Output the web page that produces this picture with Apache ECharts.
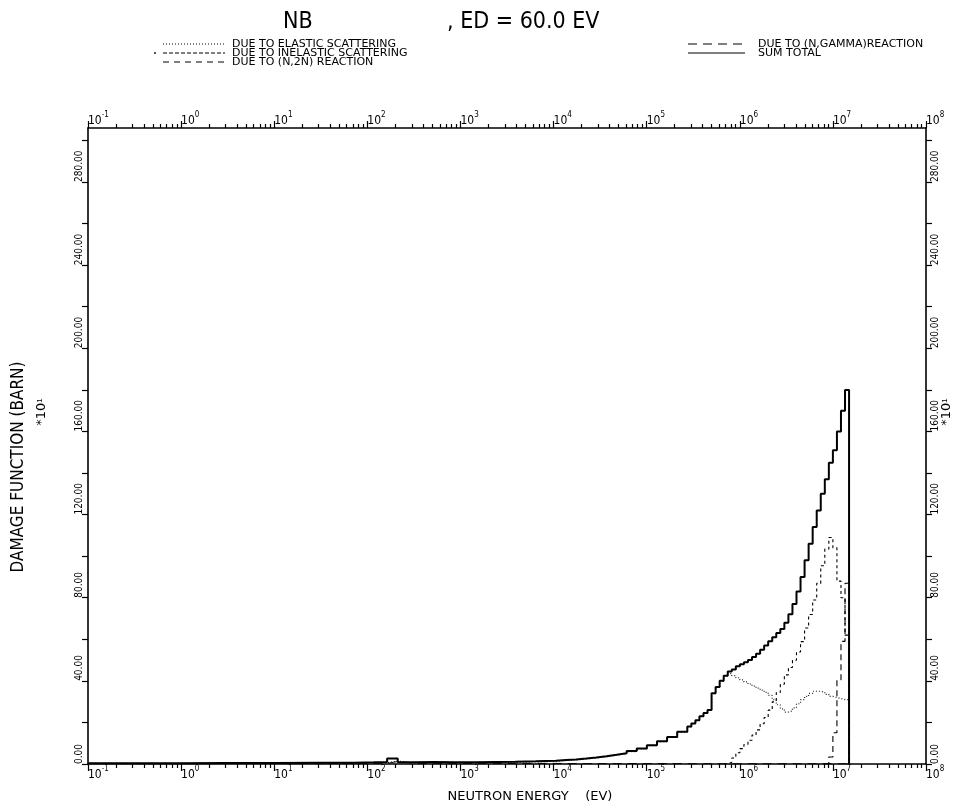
<!DOCTYPE html>
<html>
<head>
<meta charset="utf-8">
<script src="https://cdn.jsdelivr.net/npm/echarts@6/dist/echarts.min.js"></script>
<style>
  html, body { margin: 0; padding: 0; background: #fff; }
  #chart { width: 974px; height: 810px; }
</style>
</head>
<body>
<div id="chart"></div>
<script>
// Neutron energy group boundaries (eV), ascending. Value i belongs to [edges[i], edges[i+1]].
const edges = [
  0.1, 0.414, 1.0, 3.0, 10, 30, 71.4, 117.7, 163, 212, 320, 527, 870, 1434, 2364, 3898, 6426,
  10595, 13604, 17467, 22429, 28800, 36980, 47484, 60970, 78287, 100520, 129070, 165730, 212800,
  273240, 301970, 333730, 368830, 407620, 450490, 497870, 550230, 608100, 672060, 742740, 820850,
  907180, 1002600, 1108000, 1224600, 1353400, 1495700, 1653000, 1826800, 2019000, 2231300, 2466000,
  2725300, 3011900, 3328700, 3678800, 4065700, 4493300, 4965900, 5488100, 6065300, 6703200, 7408200,
  8187300, 9048400, 10000000, 11052000, 12214000, 13499000, 14918000
];

// Damage function per group, in units of 10 barn
const sumTotal = [
  0.4, 0.4, 0.5, 0.5, 0.6, 0.6, 0.8, 1.0, 2.6, 0.8, 1.0, 0.8, 0.9, 1.0, 1.1, 1.3, 1.6,
  1.9, 2.2, 2.6, 3.1, 3.7, 4.4, 5.2, 6.2, 7.5, 9.0, 11.0, 13.0, 15.5,
  18.0, 19.5, 21.0, 23.0, 24.5, 26.0, 34.0, 37.0, 40.0, 42.5, 44.5, 45.5,
  47.0, 48.0, 49.0, 50.0, 51.5, 53.0, 55.0, 57.0, 59.0, 61.0, 63.0,
  65.0, 68.0, 72.0, 77.0, 83.0, 90.0, 98.0, 106.0, 114.0, 122.0, 130.0,
  137.0, 145.0, 151.0, 160.0, 170.0, 180.0
];
const elastic = [
  0.1, 0.1, 0.2, 0.2, 0.3, 0.3, 0.5, 0.7, 1.4, 0.5, 0.7, 0.5, 0.6, 0.7, 0.8, 1.0, 1.3,
  1.7, 2.0, 2.4, 2.9, 3.5, 4.2, 5.0, 6.0, 7.3, 8.8, 10.8, 12.8, 15.3,
  17.9, 19.4, 20.9, 22.9, 24.4, 25.9, 33.9, 36.9, 39.9, 42.4, 43.5, 42.5,
  41.5, 40.5, 39.5, 38.5, 37.5, 36.5, 35.5, 34.5, 33.0, 31.0, 28.5,
  26.5, 25.0, 25.5, 27.0, 29.0, 31.0, 32.5, 34.0, 35.0, 35.0, 34.5,
  33.5, 32.5, 32.0, 31.5, 31.0, 31.0
];
const inelastic = [
  null, null, null, null, null, null, null, null, null, null, null, null, null, null, null, null, null,
  null, null, null, null, null, null, null, null, null, null, null, null, null,
  null, null, null, null, null, null, null, null, null, 0.0, 0.9, 2.9,
  5.4, 7.4, 9.4, 11.4, 13.9, 16.4, 19.4, 22.4, 25.9, 29.9, 34.4,
  38.4, 42.9, 46.4, 49.9, 53.9, 58.9, 65.4, 71.9, 78.9, 86.9, 95.4,
  103.4, 109.0, 104.0, 88.0, 80.0, 62.0
];
const n2n = [
  null, null, null, null, null, null, null, null, null, null, null, null, null, null, null, null, null,
  null, null, null, null, null, null, null, null, null, null, null, null, null,
  null, null, null, null, null, null, null, null, null, null, null, null,
  null, null, null, null, null, null, null, null, null, null, null,
  null, null, null, null, null, null, null, null, null, null, null,
  0.0, 3.4, 15.0, 40.4, 59.0, 87.0
];
const nGamma = [
  0.3, 0.3, 0.3, 0.3, 0.3, 0.3, 0.3, 0.3, 1.2, 0.3, 0.3, 0.3, 0.3, 0.3, 0.3, 0.3, 0.3,
  0.2, 0.2, 0.2, 0.2, 0.2, 0.2, 0.2, 0.2, 0.2, 0.2, 0.2, 0.2, 0.2,
  0.1, 0.1, 0.1, 0.1, 0.1, 0.1, 0.1, 0.1, 0.1, 0.1, 0.1, 0.1,
  0.1, 0.1, 0.1, 0.1, 0.1, 0.1, 0.1, 0.1, 0.1, 0.1, 0.1,
  0.1, 0.1, 0.1, 0.1, 0.1, 0.1, 0.1, 0.1, 0.1, 0.1, 0.1,
  0.1, 0.1, 0.1, 0.1, 0.1, 0.1
];

// Axis ticks and labels
const xMin = 0.1, xMax = 1e8;
const decadeTicks = [0.1, 1, 10, 100, 1000, 1e4, 1e5, 1e6, 1e7, 1e8];
const yMax = 306;
const yTickValues = [0, 20, 40, 60, 80, 100, 120, 140, 160, 180, 200, 220, 240, 260, 280, 300];
const yLabelValues = [0, 40, 80, 120, 160, 200, 240, 280];

// Intermediate log ticks (2..9 x 10^n) inside each decade
const minorTicks = [];
decadeTicks.slice(0, -1).forEach(d => {
  for (let k = 2; k <= 9; k++) minorTicks.push(+(d * k).toPrecision(6));
});

const FONT = '"DejaVu Sans", sans-serif';
const FONT_C = '"DejaVu Sans Condensed", "DejaVu Sans", sans-serif';

// Histogram points: flat over each group, vertical drop at the top edge
function histogram(values) {
  const pts = [];
  let last = null;
  values.forEach((v, i) => {
    if (v === null) return;
    pts.push([edges[i], v]);
    last = v;
  });
  pts.push([edges[edges.length - 1], last]);
  pts.push([edges[edges.length - 1], 0]);
  return pts;
}

const chart = echarts.init(document.getElementById('chart'), null, { renderer: 'canvas' });

const powerLabel = {
  formatter: v => '{b|10}{e|' + Math.round(Math.log10(v)) + '}',
  rich: {
    b: { fontFamily: FONT_C, fontSize: 12, color: '#000', lineHeight: 16, verticalAlign: 'bottom' },
    e: { fontFamily: FONT_C, fontSize: 8, color: '#000', lineHeight: 16, verticalAlign: 'top' }
  }
};

function logAxis(position, major) {
  return {
    type: 'log', logBase: 10, position, min: xMin, max: xMax,
    axisLine: { show: major, lineStyle: { color: '#000', width: 1.6 } },
    axisTick: {
      show: true, inside: false, length: major ? 7 : 4,
      customValues: major ? decadeTicks : minorTicks,
      lineStyle: { color: '#000', width: 1.2 }
    },
    axisLabel: major ? Object.assign({
      show: true, customValues: decadeTicks, align: 'left', margin: 1, showMinLabel: true, showMaxLabel: true
    }, powerLabel) : { show: false },
    splitLine: { show: false }, minorTick: { show: false }
  };
}

function valueAxis(position) {
  return {
    type: 'value', position, min: 0, max: yMax,
    axisLine: { show: true, lineStyle: { color: '#000', width: 1.6 } },
    axisTick: { show: true, inside: false, length: 6, customValues: yTickValues, lineStyle: { color: '#000', width: 1.2 } },
    axisLabel: {
      show: true, customValues: yLabelValues, rotate: 90, margin: 4, align: 'left',
      fontFamily: FONT_C, fontSize: 10, color: '#000',
      formatter: v => v.toFixed(2)
    },
    splitLine: { show: false }
  };
}

function stepSeries(name, values, lineStyle, z) {
  return {
    name, type: 'line', step: 'end', xAxisIndex: 0, yAxisIndex: 0,
    data: histogram(values), symbol: 'none', z, animation: false,
    lineStyle: Object.assign({ color: '#000', width: 1 }, lineStyle)
  };
}

// Legend samples and titles
const legendLeft = [
  { y: 44, dash: [1, 2], text: 'DUE TO ELASTIC SCATTERING' },
  { y: 53, dash: [4, 2], text: 'DUE TO INELASTIC SCATTERING' },
  { y: 62, dash: [6, 5], text: 'DUE TO (N,2N) REACTION' }
];
const legendRight = [
  { y: 44, dash: [9, 6], text: 'DUE TO (N,GAMMA)REACTION' },
  { y: 53, dash: null, text: 'SUM TOTAL' }
];

const graphics = [];
function legendRow(x0, x1, tx, row) {
  graphics.push({
    type: 'line', shape: { x1: x0, y1: row.y, x2: x1, y2: row.y },
    style: { stroke: '#000', lineWidth: 1, lineDash: row.dash || null }
  });
  graphics.push({
    type: 'text', x: tx, y: row.y,
    style: { text: row.text, font: '11px ' + FONT, fill: '#000', textAlign: 'left', textVerticalAlign: 'middle' }
  });
}
legendLeft.forEach(r => legendRow(163, 225, 232, r));
legendRight.forEach(r => legendRow(688, 745, 758, r));
graphics.push({ type: 'circle', shape: { cx: 155, cy: 53, r: 0.9 }, style: { fill: '#000' } });

const superOne = { s: { fontSize: 8, verticalAlign: 'top' } };
graphics.push(
  { type: 'text', x: 283, y: 22, style: { text: 'NB', font: '23px ' + FONT_C, fill: '#000', textAlign: 'left', textVerticalAlign: 'middle' } },
  { type: 'text', x: 447, y: 22, style: { text: ', ED = 60.0 EV', font: '23px ' + FONT_C, fill: '#000', textAlign: 'left', textVerticalAlign: 'middle' } },
  { type: 'text', x: 530, y: 797, style: { text: 'NEUTRON ENERGY    (EV)', font: '13px ' + FONT, fill: '#000', textAlign: 'center', textVerticalAlign: 'middle' } },
  { type: 'text', x: 19, y: 467, rotation: Math.PI / 2, style: { text: 'DAMAGE FUNCTION (BARN)', font: '17px ' + FONT_C, fill: '#000', textAlign: 'center', textVerticalAlign: 'middle' } },
  { type: 'text', x: 42, y: 412, rotation: Math.PI / 2, style: { text: '*10{s|1}', rich: superOne, font: '13px ' + FONT, fill: '#000', textAlign: 'center', textVerticalAlign: 'middle' } },
  { type: 'text', x: 947, y: 412, rotation: Math.PI / 2, style: { text: '*10{s|1}', rich: superOne, font: '13px ' + FONT, fill: '#000', textAlign: 'center', textVerticalAlign: 'middle' } }
);

chart.setOption({
  backgroundColor: '#fff',
  animation: false,
  grid: { left: 88, right: 48, top: 128, bottom: 46, containLabel: false },
  xAxis: [logAxis('bottom', true), logAxis('bottom', false), logAxis('top', true), logAxis('top', false)],
  yAxis: [valueAxis('left'), valueAxis('right')],
  series: [
    stepSeries('DUE TO (N,GAMMA)REACTION', nGamma, { type: [9, 6], width: 1 }, 2),
    stepSeries('DUE TO ELASTIC SCATTERING', elastic, { type: [1, 2], width: 1.2, color: '#222' }, 3),
    stepSeries('DUE TO INELASTIC SCATTERING', inelastic, { type: [3, 3], width: 1.1 }, 3),
    stepSeries('DUE TO (N,2N) REACTION', n2n, { type: [6, 4], width: 1.1 }, 3),
    stepSeries('SUM TOTAL', sumTotal, { width: 2 }, 4)
  ],
  graphic: graphics
});
</script>
</body>
</html>
